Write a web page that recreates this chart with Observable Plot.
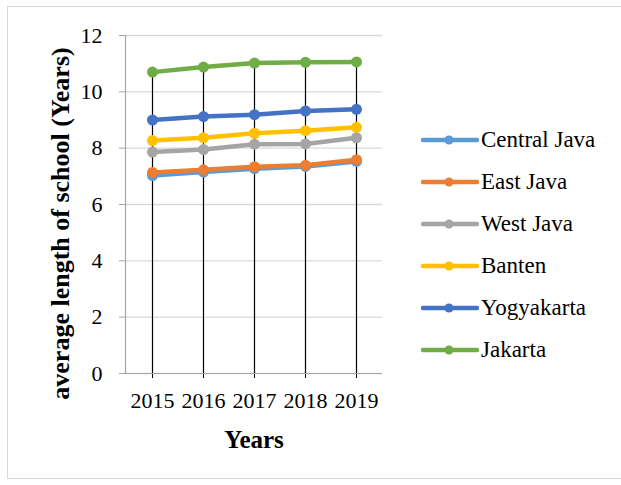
<!DOCTYPE html>
<html>
<head>
<meta charset="utf-8">
<script src="https://cdn.jsdelivr.net/npm/d3@7"></script>
<script src="https://cdn.jsdelivr.net/npm/@observablehq/plot@0.6"></script>
<style>
  html, body { margin: 0; padding: 0; background: #fff; }
  #wrap { position: relative; width: 621px; height: 485px; overflow: hidden; font-family: "Liberation Serif", "Times New Roman", serif; }
  #border { position: absolute; left: 7px; top: 6px; width: 640px; height: 473px; border: 1px solid #d9d9d9; box-sizing: border-box; }
  #chart { position: absolute; left: 0; top: 0; }
  #legend { position: absolute; left: 421px; top: 0; }
  .item { position: absolute; left: 0; height: 30px; display: flex; align-items: center; white-space: nowrap; font-size: 23px; color: #000; }
  .item svg { display: block; margin-right: 2px; }
</style>
</head>
<body>
<div id="wrap">
  <div id="border"></div>
  <div id="chart"></div>
  <div id="legend"></div>
</div>
<script>
const years = ["2015", "2016", "2017", "2018", "2019"];
const seriesNames = ["Central Java", "East Java", "West Java", "Banten", "Yogyakarta", "Jakarta"];
const seriesColors = ["#5B9BD5", "#ED7D31", "#A5A5A5", "#FFC000", "#4472C4", "#70AD47"];
const centralJava = [7.03, 7.15, 7.27, 7.35, 7.53];
const eastJava = [7.14, 7.23, 7.34, 7.39, 7.59];
const westJava = [7.86, 7.95, 8.14, 8.15, 8.37];
const banten = [8.27, 8.37, 8.53, 8.62, 8.74];
const yogyakarta = [9.00, 9.12, 9.19, 9.32, 9.38];
const jakarta = [10.70, 10.88, 11.02, 11.05, 11.06];
const yTicks = [0, 2, 4, 6, 8, 10, 12];
const yLabel = "average length of school (Years)";
const xLabel = "Years";

const seriesValues = [centralJava, eastJava, westJava, banten, yogyakarta, jakarta];
const data = [];
seriesNames.forEach((name, i) => {
  years.forEach((yr, j) => data.push({series: name, year: yr, value: seriesValues[i][j]}));
});
const tops = years.map((yr, j) => ({year: yr, value: d3.max(seriesValues, s => s[j])}));

const font = "Liberation Serif, Times New Roman, serif";

const chart = Plot.plot({
  width: 621,
  height: 485,
  marginLeft: 125,
  marginRight: 239,
  marginTop: 35,
  marginBottom: 112,
  style: { fontFamily: font, background: "transparent", overflow: "visible" },
  x: { type: "point", domain: years, padding: 0.5 },
  y: { domain: [0, 12] },
  color: { domain: seriesNames, range: seriesColors },
  marks: [
    Plot.gridY(yTicks, { stroke: "#d9d9d9", strokeOpacity: 1, strokeWidth: 1.3 }),
    Plot.ruleX(tops, { x: "year", y1: 0, y2: "value", stroke: "#000", strokeWidth: 1.2 }),
    Plot.axisY(yTicks, { tickSize: 6, tickPadding: 17, fontSize: 22, stroke: "#a6a6a6", fill: "#000", label: null }),
    Plot.frame({ anchor: "left", stroke: "#a6a6a6", strokeWidth: 1.2 }),
    Plot.axisX(years, { tickSize: 5, tickPadding: 14, fontSize: 22, stroke: "#000", fill: "#000", label: null }),
    Plot.ruleY([0], { stroke: "#a6a6a6", strokeWidth: 1.2 }),
    Plot.line(data, { x: "year", y: "value", z: "series", stroke: "series", strokeWidth: 4.5, strokeLinecap: "round", strokeLinejoin: "round" }),
    Plot.dot(data, { x: "year", y: "value", fill: "series", r: 5.5, stroke: null }),
    Plot.text([yLabel], { frameAnchor: "left", textAnchor: "middle", dx: -65, dy: 19, rotate: -90, fontSize: 26, fontWeight: "bold", fill: "#000", text: d => d }),
    Plot.text([xLabel], { frameAnchor: "bottom", dy: 66, fontSize: 25, fontWeight: "bold", fill: "#000", lineAnchor: "middle", text: d => d })
  ]
});
document.getElementById("chart").appendChild(chart);

// Legend
const legend = document.getElementById("legend");
const legendY = [140, 182, 224, 266, 308, 350];
seriesNames.forEach((name, i) => {
  const item = document.createElement("div");
  item.className = "item";
  item.style.top = (legendY[i] - 15) + "px";
  const ns = "http://www.w3.org/2000/svg";
  const svg = document.createElementNS(ns, "svg");
  svg.setAttribute("width", 58);
  svg.setAttribute("height", 12);
  const ln = document.createElementNS(ns, "line");
  ln.setAttribute("x1", 2); ln.setAttribute("x2", 56);
  ln.setAttribute("y1", 6); ln.setAttribute("y2", 6);
  ln.setAttribute("stroke", seriesColors[i]);
  ln.setAttribute("stroke-width", 4.5);
  ln.setAttribute("stroke-linecap", "round");
  const c = document.createElementNS(ns, "circle");
  c.setAttribute("cx", 28); c.setAttribute("cy", 6); c.setAttribute("r", 4.5);
  c.setAttribute("fill", seriesColors[i]);
  svg.appendChild(ln); svg.appendChild(c);
  const t = document.createElement("span");
  t.textContent = name;
  item.appendChild(svg); item.appendChild(t);
  legend.appendChild(item);
});
</script>
</body>
</html>
